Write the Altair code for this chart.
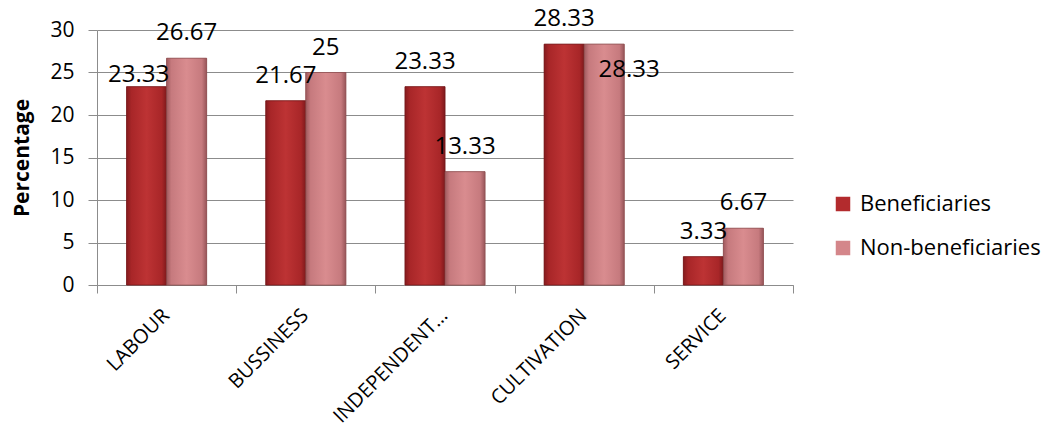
import altair as alt
import pandas as pd

categories = ["LABOUR", "BUSSINESS", "INDEPENDENT…", "CULTIVATION", "SERVICE"]
beneficiaries = [23.33, 21.67, 23.33, 28.33, 3.33]
non_beneficiaries = [26.67, 25, 13.33, 28.33, 6.67]
series = ["Beneficiaries", "Non-beneficiaries"]

rows = []
for i, c in enumerate(categories):
    rows.append({"cat": c, "series": series[0], "value": beneficiaries[i]})
    rows.append({"cat": c, "series": series[1], "value": non_beneficiaries[i]})
df = pd.DataFrame(rows)

FONT = "Open Sans"
GRAY = "#8c8c8c"
W, H = 696, 255

x_enc = alt.X("cat:N", sort=categories, title=None,
              scale=alt.Scale(paddingInner=0, paddingOuter=0),
              axis=alt.Axis(tickBand="extent", labelAngle=-45, labelAlign="right",
                            labelBaseline="top", labelPadding=12, labelFontSize=20,
                            labelOffset=-8,
                            labelFont=FONT, labelColor="black", tickColor=GRAY,
                            tickSize=8, domainColor=GRAY, labelLimit=300))
xo_enc = alt.XOffset("series:N", sort=series, scale=alt.Scale(paddingOuter=0.74, paddingInner=0))
y_enc = alt.Y("value:Q", title="Percentage",
              scale=alt.Scale(domain=[0, 30], nice=False),
              axis=alt.Axis(values=[0, 5, 10, 15, 20, 25, 30], grid=True, gridColor=GRAY,
                            domainColor=GRAY, tickColor=GRAY, tickSize=9,
                            labelFontSize=21, labelFont=FONT, labelColor="black",
                            labelPadding=14, titleFont=FONT, titleFontSize=21,
                            titleFontWeight="bold", titleColor="black", titlePadding=17))

base = alt.Chart(df)

legend_bars = base.mark_bar(stroke="#7a1a1c", strokeWidth=0.5).encode(
    x=x_enc, xOffset=xo_enc, y=y_enc,
    color=alt.Color("series:N", sort=series, title=None,
                    scale=alt.Scale(domain=series, range=["#b32b2d", "#d4868a"]),
                    legend=alt.Legend(orient="none", legendX=735, legendY=163,
                                      symbolType="square", symbolSize=210,
                                      symbolStrokeWidth=0, labelFont=FONT,
                                      labelFontSize=22, labelColor="black",
                                      labelLimit=400,
                                      rowPadding=22, labelOffset=6))
)

grad_ben = alt.Gradient(gradient="linear", x1=0, x2=1, y1=0, y2=0, stops=[
    alt.GradientStop(offset=0, color="#861b1e"),
    alt.GradientStop(offset=0.12, color="#a82628"),
    alt.GradientStop(offset=0.5, color="#bd3334"),
    alt.GradientStop(offset=0.88, color="#a82628"),
    alt.GradientStop(offset=1, color="#7e191c")])
grad_non = alt.Gradient(gradient="linear", x1=0, x2=1, y1=0, y2=0, stops=[
    alt.GradientStop(offset=0, color="#a05a5e"),
    alt.GradientStop(offset=0.12, color="#c67a7e"),
    alt.GradientStop(offset=0.5, color="#d98c8f"),
    alt.GradientStop(offset=0.88, color="#c67a7e"),
    alt.GradientStop(offset=1, color="#985559")])

ben_bars = base.transform_filter(alt.datum.series == series[0]).mark_bar(
    fill=grad_ben, stroke="#6e1517", strokeWidth=0.6).encode(x=x_enc, xOffset=xo_enc, y=y_enc)
non_bars = base.transform_filter(alt.datum.series == series[1]).mark_bar(
    fill=grad_non, stroke="#8a5053", strokeWidth=0.6).encode(x=x_enc, xOffset=xo_enc, y=y_enc)

txt = dict(font=FONT, fontSize=24, color="black", baseline="middle", align="center")
is_lab_ben = "(datum.cat == 'LABOUR' && datum.series == 'Beneficiaries')"
is_cul_non = "(datum.cat == 'CULTIVATION' && datum.series == 'Non-beneficiaries')"

labels_main = base.transform_filter(f"!{is_lab_ben} && !{is_cul_non}").mark_text(dy=-25, **txt).encode(
    x=x_enc, xOffset=xo_enc, y=y_enc, text=alt.Text("value:Q", format="~g"))
labels_a = base.transform_filter(is_lab_ben).mark_text(dy=-12, dx=-8, **txt).encode(
    x=x_enc, xOffset=xo_enc, y=y_enc, text=alt.Text("value:Q", format="~g"))
labels_b = base.transform_filter(is_cul_non).mark_text(dy=26, dx=25, **txt).encode(
    x=x_enc, xOffset=xo_enc, y=y_enc, text=alt.Text("value:Q", format="~g"))

chart = alt.layer(legend_bars, ben_bars, non_bars, labels_main, labels_a, labels_b).properties(
    width=W, height=H,
    autosize=alt.AutoSizeParams(type="none"),
    padding={"left": 97, "top": 30, "right": 1064 - 97 - W, "bottom": 430 - 30 - H},
    background="white",
).configure_view(stroke=None)

chart.save("out.html", embed_options={"renderer": "svg", "actions": False})
